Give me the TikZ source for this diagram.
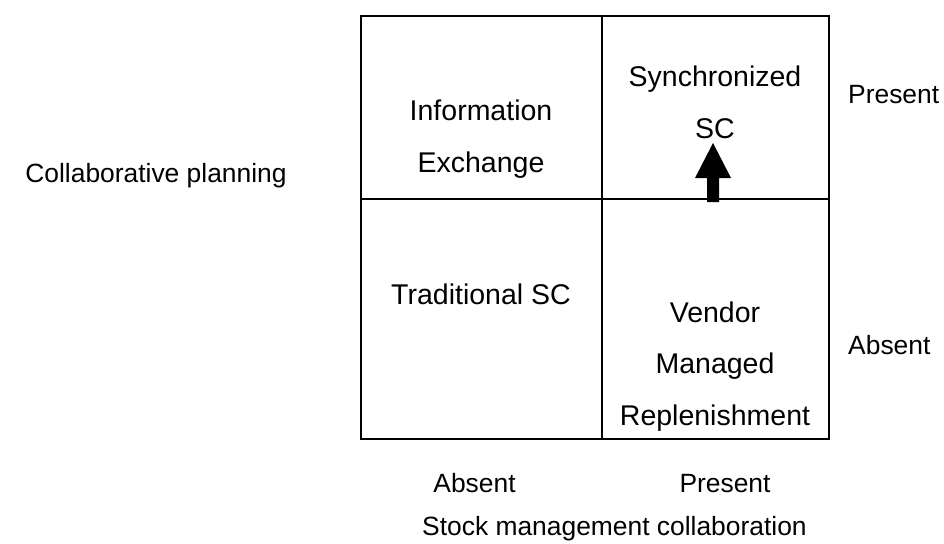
\documentclass[tikz,border=0pt]{standalone}
\usepackage{fontspec}
\setmainfont{Liberation Sans}
\begin{document}
\begin{tikzpicture}[x=1pt,y=-1pt,
  cell/.style={align=center, anchor=base, inner sep=0pt,
    font=\fontsize{28.5}{51.5}\selectfont},
  axislabel/.style={inner sep=0pt, font=\fontsize{26.4}{30}\selectfont},
  gridline/.style={line width=2.5pt},
  bigarrow/.style={fill=black}]
\useasboundingbox (0,0) rectangle (944,543);

% 2x2 matrix frame
\coordinate (tl) at (361,16);
\coordinate (br) at (829,439);
\coordinate (vtop) at (602,16);
\coordinate (vbot) at (602,439);
\coordinate (hleft) at (361,199);
\coordinate (hright) at (829,199);
\draw[gridline] (tl) rectangle (br);
\draw[gridline] (vtop) -- (vbot);
\draw[gridline] (hleft) -- (hright);

% quadrant labels (anchored on the baseline of their last line)
\node[cell] (info) at (481,172) {Information\\Exchange};
\node[cell] (sync) at (715,138) {Synchronized\\SC};
\node[cell] (trad) at (481,304) {Traditional SC};
\node[cell] (vmr) at (715,425) {Vendor\\Managed\\Replenishment};

% block arrow from VMR towards synchronized SC
\fill[bigarrow] (707,202) -- (707,178) -- (695,178) -- (713,143)
  -- (731,178) -- (719,178) -- (719,202) -- cycle;

% axis labels
\node[axislabel, anchor=base] (cp) at (156,182) {Collaborative planning};
\node[axislabel, anchor=base west] (ypres) at (848,103) {Present};
\node[axislabel, anchor=base west] (yabs) at (848,354) {Absent};
\node[axislabel, anchor=base] (xabs) at (474.5,492) {Absent};
\node[axislabel, anchor=base] (xpres) at (725,492) {Present};
\node[axislabel, anchor=base west] (smc) at (422,535) {Stock management collaboration};
\end{tikzpicture}
\end{document}
